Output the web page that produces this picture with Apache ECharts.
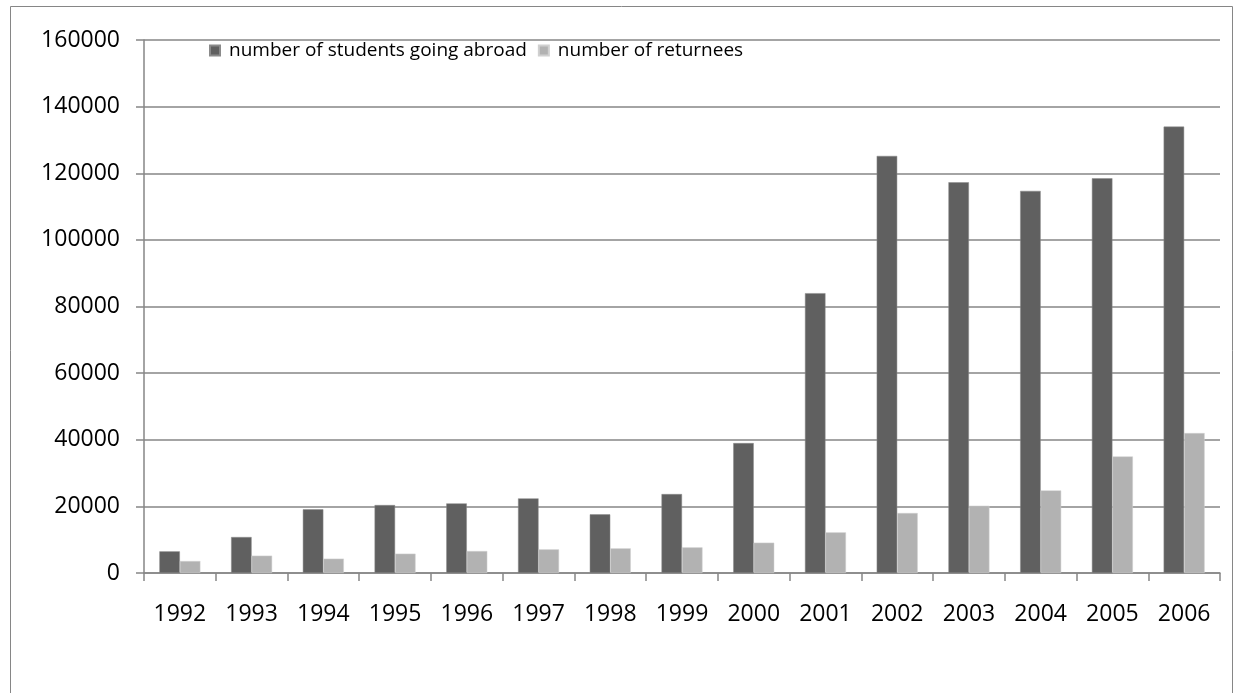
<!DOCTYPE html>
<html>
<head>
<meta charset="utf-8">
<script src="https://cdn.jsdelivr.net/npm/echarts@6/dist/echarts.min.js"></script>
<style>
  html, body { margin: 0; padding: 0; background: #fff; }
  #chart { width: 1235px; height: 693px; }
</style>
</head>
<body>
<div id="chart"></div>
<script>
// Students going abroad vs. returnees, 1992-2006
const years = ['1992','1993','1994','1995','1996','1997','1998','1999','2000','2001','2002','2003','2004','2005','2006'];
const goingAbroad = [6500, 10800, 19100, 20400, 20900, 22400, 17600, 23700, 39000, 84000, 125200, 117300, 114700, 118500, 134000];
const returnees = [3600, 5200, 4300, 5800, 6600, 7100, 7400, 7700, 9100, 12200, 18000, 20200, 24800, 35000, 42000];
const seriesNames = ['number of students going abroad', 'number of returnees'];

const font = '"Open Sans", "Liberation Sans", sans-serif';
const axisGrey = '#868686';

const chart = echarts.init(document.getElementById('chart'), null, { renderer: 'canvas' });
chart.setOption({
  backgroundColor: '#ffffff',
  animation: false,
  graphic: [{
    type: 'rect',
    shape: { x: 10.5, y: 6.5, width: 1222, height: 720 },
    style: { fill: 'none', stroke: axisGrey, lineWidth: 1 },
    silent: true,
    z: -1
  }],
  legend: {
    left: 204,
    top: 36,
    itemWidth: 10,
    itemHeight: 10,
    itemGap: 11,
    icon: 'rect',
    textStyle: { fontFamily: font, fontSize: 19, color: '#000', padding: [0, 0, 0, 4] },
    data: seriesNames
  },
  grid: { left: 144, right: 15, top: 40, bottom: 120, containLabel: false },
  xAxis: {
    type: 'category',
    data: years,
    axisLine: { show: true, lineStyle: { color: axisGrey, width: 1.5 } },
    axisTick: { show: true, length: 8, lineStyle: { color: axisGrey, width: 1.5 } },
    axisLabel: { margin: 30, fontFamily: font, fontSize: 23, color: '#000' },
    splitLine: { show: false }
  },
  yAxis: {
    type: 'value',
    min: 0,
    max: 160000,
    interval: 20000,
    axisLine: { show: true, lineStyle: { color: axisGrey, width: 1.5 } },
    axisTick: { show: true, length: 8, lineStyle: { color: axisGrey, width: 1.5 } },
    axisLabel: {
      margin: 24, fontFamily: font, fontSize: 23, color: '#000',
      formatter: v => String(v)
    },
    splitLine: { show: true, lineStyle: { color: axisGrey, width: 1.5 } }
  },
  series: [
    {
      name: seriesNames[0],
      type: 'bar',
      data: goingAbroad,
      barWidth: 20.5,
      barGap: '0%',
      itemStyle: { color: '#606060', borderColor: '#8a8a8a', borderWidth: 0.5 }
    },
    {
      name: seriesNames[1],
      type: 'bar',
      data: returnees,
      barWidth: 20.5,
      barGap: '0%',
      itemStyle: { color: '#b2b2b2', borderColor: '#d0d0d0', borderWidth: 0.5 }
    }
  ]
});
</script>
</body>
</html>
